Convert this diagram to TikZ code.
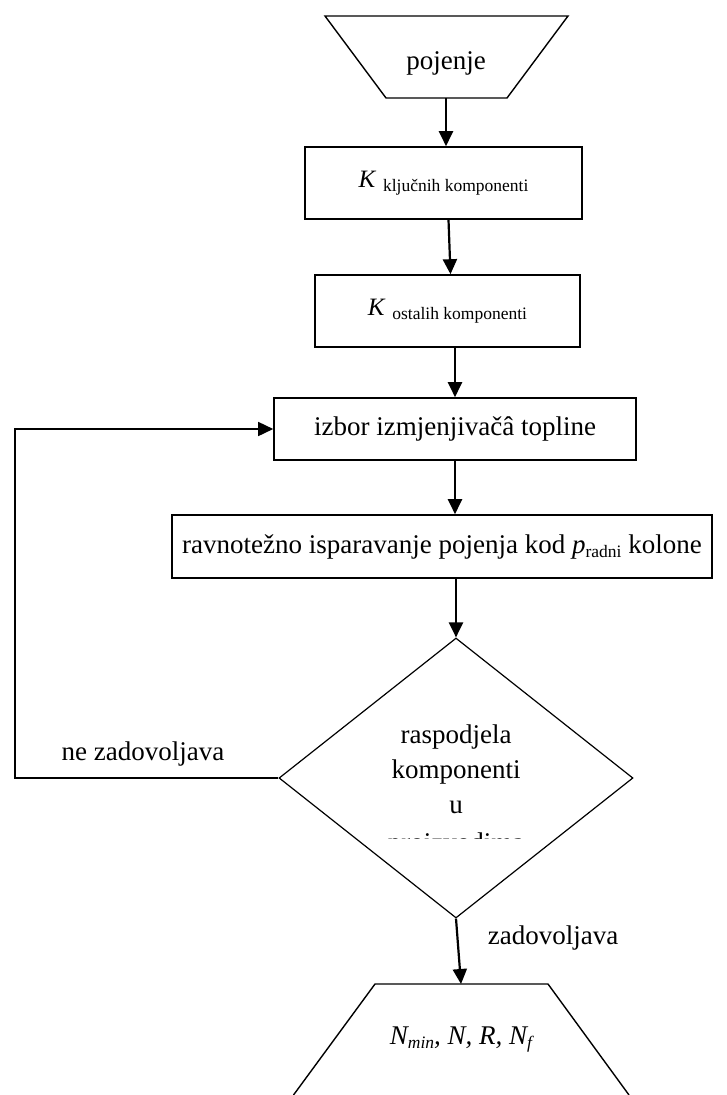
\documentclass[tikz,border=0pt]{standalone}
\usepackage{fontspec}
\setmainfont{Liberation Serif}
\usetikzlibrary{shapes.geometric,arrows.meta}
\newcommand{\lowsub}[1]{\raisebox{-0.35ex}{\fontsize{17.5}{18}\selectfont #1}}
\begin{document}
\begin{tikzpicture}[x=1pt,y=-1pt,
    every node/.style={font=\fontsize{27}{34}\selectfont},
    box/.style={draw,line width=1.6pt,inner sep=0pt},
    txt/.style={anchor=base,inner sep=0pt},
    flow/.style={line width=2.2pt,-{Triangle[length=15pt,width=14pt]}}]
  \useasboundingbox (0,0) rectangle (726,1095);
  % ulaz
  \draw[line width=1.4pt] (325,16) -- (568,16) -- (507,98) -- (386,98) -- cycle;
  \coordinate (feed) at (446,98);
  \node[txt] (feedtxt) at (446,69) {pojenje};
  % blokovi
  \node[box,minimum width=277pt,minimum height=72pt] (kkey) at (443.5,183)
    {{\fontsize{25}{28}\selectfont\textit{K}} \lowsub{ključnih komponenti}};
  \node[box,minimum width=265pt,minimum height=72pt] (krest) at (447.5,311)
    {{\fontsize{25}{28}\selectfont\textit{K}} \lowsub{ostalih komponenti}};
  \node[box,minimum width=362pt,minimum height=62pt] (hx) at (455,429)
    {izbor izmjenjivačâ topline};
  \node[box,minimum width=540pt,minimum height=63pt] (flash) at (442,546.5)
    {ravnotežno isparavanje pojenja kod \textit{p}\lowsub{radni} kolone};
  \node[draw,diamond,line width=1.2pt,minimum width=354pt,minimum height=280pt,
    inner sep=0pt] (dist) at (456,778) {};
  \node[txt] (dl1) at (456,743) {raspodjela};
  \node[txt] (dl2) at (456,778) {komponenti};
  \node[txt] (dl3) at (456,813) {u};
  \begin{scope}
    \clip (380,800) rectangle (540,838);
    \node[txt] (dl4) at (456,851) {proizvodima};
  \end{scope}
  % izlaz
  \draw[line width=1.4pt] (293.5,1095) -- (375,984) -- (548,984) -- (629,1095);
  \coordinate (result) at (461,984);
  \node[txt] (restxt) at (461,1044)
    {\textit{N\lowsub{min}, N, R, N\lowsub{f}}};
  \coordinate (back) at (15,778);
  \node[txt] (no) at (143,760) {ne zadovoljava};
  \node[txt] (yes) at (553,944) {zadovoljava};
  % veze
  \begin{scope}[flow]
    \draw (feed) to (feed |- kkey.north);
    \draw ([xshift=5pt]kkey.south) to ([xshift=3pt]krest.north);
    \draw (hx.north |- krest.south) to (hx.north);
    \draw (hx.south) to (hx.south |- flash.north);
    \draw (dist.north |- flash.south) to (dist.north);
    \draw (dist.south) to (result);
    \draw[line width=1.6pt] (dist.west) -- (back) |- (hx.west);
  \end{scope}
\end{tikzpicture}
\end{document}
